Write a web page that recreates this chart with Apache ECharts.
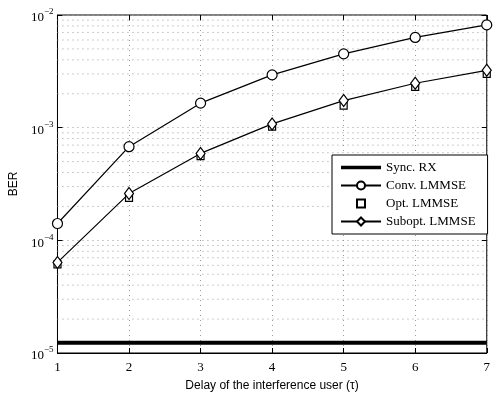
<!DOCTYPE html>
<html>
<head>
<meta charset="utf-8">
<script src="https://cdn.jsdelivr.net/npm/echarts@6/dist/echarts.min.js"></script>
<style>
  html, body { margin: 0; padding: 0; background: #fff; }
  #chart { width: 493px; height: 397px; }
</style>
</head>
<body>
<div id="chart"></div>
<script>
// delay values on the x axis
const delays = [1, 2, 3, 4, 5, 6, 7];

// BER values
const syncRx = 1.23e-5;
const convLmmse = [1.41e-4, 6.78e-4, 1.65e-3, 2.94e-3, 4.52e-3, 6.32e-3, 8.17e-3];
const optLmmse = [6.12e-5, 2.38e-4, 5.6e-4, 1.02e-3, 1.57e-3, 2.3e-3, 3.0e-3];
const suboptLmmse = [6.37e-5, 2.6e-4, 5.91e-4, 1.08e-3, 1.74e-3, 2.48e-3, 3.23e-3];

// minor grid lines of the log axis
const minorGrid = [];
[1e-5, 1e-4, 1e-3].forEach(d => {
    for (let k = 2; k <= 9; k++) minorGrid.push(+(k * d).toPrecision(3));
});

const serif = '"Liberation Serif", "DejaVu Serif", serif';
const sans = '"Liberation Sans", Arial, sans-serif';

const pairs = arr => delays.map((x, i) => [x, arr[i]]);

const chart = echarts.init(document.getElementById('chart'));

const tickStyle = { show: true, inside: true, length: 5, lineStyle: { color: '#000', width: 1 } };
const gridColor = '#9a9a9a';
const dotted = { show: true, lineStyle: { color: gridColor, type: [1, 4], width: 1 } };

const expLabel = v => {
    const e = Math.round(Math.log10(v));
    return '{b|10}{s|' + (e < 0 ? '\u2212' + (-e) : e) + '}';
};

// dotted minor grid lines drawn as plain line series
const minorSeries = minorGrid.map(v => ({
    type: 'line', silent: true, symbol: 'none', z: 1,
    data: [[delays[0], v], [delays[delays.length - 1], v]],
    lineStyle: { color: gridColor, type: [1, 4], width: 1 }
}));

chart.setOption({
    animation: false,
    backgroundColor: '#fff',
    grid: { left: 56, right: 2, top: 15, bottom: 40, show: true, borderColor: '#000', borderWidth: 1 },
    xAxis: [
        {
            type: 'value', min: 1, max: 7, interval: 1,
            name: 'Delay of the interference user (\u03c4)',
            nameLocation: 'middle', nameGap: 27,
            nameTextStyle: { fontFamily: sans, fontSize: 12, color: '#000' },
            axisLine: { show: true, lineStyle: { color: '#000', width: 1 } },
            axisTick: tickStyle,
            axisLabel: { fontFamily: serif, fontSize: 13, color: '#000', margin: 8 },
            splitLine: dotted
        },
        {
            type: 'value', min: 1, max: 7, interval: 1, position: 'top',
            axisLine: { show: false },
            axisTick: tickStyle, axisLabel: { show: false }, splitLine: { show: false }
        }
    ],
    yAxis: [
        {
            type: 'log', logBase: 10, min: 1e-5, max: 1e-2,
            name: 'BER', nameLocation: 'middle', nameGap: 36,
            nameTextStyle: { fontFamily: sans, fontSize: 12, color: '#000' },
            axisLine: { show: true, lineStyle: { color: '#000', width: 1 } },
            axisTick: tickStyle,
            axisLabel: {
                margin: 4,
                formatter: expLabel,
                rich: {
                    b: { fontFamily: serif, fontSize: 13, color: '#000', padding: [6, 0, 0, 0] },
                    s: { fontFamily: serif, fontSize: 9, color: '#000', padding: [0, 0, 6, 0] }
                }
            },
            splitLine: dotted
        },
        {
            type: 'log', logBase: 10, min: 1e-5, max: 1e-2, position: 'right',
            axisLine: { show: false },
            axisTick: tickStyle, axisLabel: { show: false }, splitLine: { show: false }
        }
    ],
    legend: {
        orient: 'vertical',
        left: 332, top: 155,
        width: 150,
        padding: [6, 12, 6, 8],
        itemWidth: 40, itemHeight: 10, itemGap: 5,
        backgroundColor: '#fff',
        borderColor: '#000', borderWidth: 1,
        textStyle: { fontFamily: serif, fontSize: 13, color: '#000', lineHeight: 13 },
        data: [
            { name: 'Sync. RX', icon: 'path://M0,0 M0,3.2 L40,3.2 L40,6.8 L0,6.8 Z M40,10' },
            'Conv. LMMSE', 'Opt. LMMSE', 'Subopt. LMMSE'
        ]
    },
    series: minorSeries.concat([
        {
            name: 'Sync. RX', type: 'line', symbol: 'none', z: 3,
            data: delays.map(x => [x, syncRx]),
            lineStyle: { color: '#000', width: 4 },
            itemStyle: { color: '#000' }
        },
        {
            name: 'Conv. LMMSE', type: 'line', z: 3,
            data: pairs(convLmmse),
            symbol: 'circle', symbolSize: 10,
            lineStyle: { color: '#000', width: 1.2 },
            itemStyle: { color: '#fff', borderColor: '#000', borderWidth: 1.2 }
        },
        {
            name: 'Opt. LMMSE', type: 'line', z: 3,
            data: pairs(optLmmse),
            symbol: 'rect', symbolSize: 7,
            lineStyle: { width: 0, opacity: 0 },
            itemStyle: { color: '#fff', borderColor: '#000', borderWidth: 1.2 }
        },
        {
            name: 'Subopt. LMMSE', type: 'line', z: 3,
            data: pairs(suboptLmmse),
            symbol: 'diamond', symbolSize: [9, 12],
            lineStyle: { color: '#000', width: 1.2 },
            itemStyle: { color: '#fff', borderColor: '#000', borderWidth: 1.2 }
        }
    ])
});
</script>
</body>
</html>
